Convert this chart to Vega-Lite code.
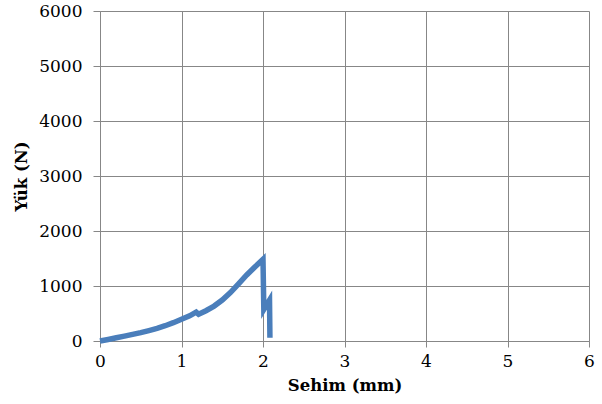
{
  "$schema": "https://vega.github.io/schema/vega-lite/v6.json",
  "autosize": {"type": "none"},
  "width": 489,
  "height": 330,
  "padding": {"left": 100, "top": 11, "right": 13, "bottom": 63},
  "background": "white",
  "data": {"values": [
    {"i": 0, "x": 0, "y": 0},
    {"i": 1, "x": 0.1, "y": 28},
    {"i": 2, "x": 0.2, "y": 58},
    {"i": 3, "x": 0.3, "y": 88},
    {"i": 4, "x": 0.4, "y": 120},
    {"i": 5, "x": 0.5, "y": 153},
    {"i": 6, "x": 0.6, "y": 190},
    {"i": 7, "x": 0.7, "y": 230},
    {"i": 8, "x": 0.8, "y": 278},
    {"i": 9, "x": 0.9, "y": 333},
    {"i": 10, "x": 1.0, "y": 395},
    {"i": 11, "x": 1.1, "y": 458},
    {"i": 12, "x": 1.18, "y": 525},
    {"i": 13, "x": 1.21, "y": 485},
    {"i": 14, "x": 1.3, "y": 550},
    {"i": 15, "x": 1.4, "y": 635},
    {"i": 16, "x": 1.5, "y": 745},
    {"i": 17, "x": 1.6, "y": 880},
    {"i": 18, "x": 1.7, "y": 1040},
    {"i": 19, "x": 1.8, "y": 1200},
    {"i": 20, "x": 1.9, "y": 1345},
    {"i": 21, "x": 2.0, "y": 1485},
    {"i": 22, "x": 2.01, "y": 575},
    {"i": 23, "x": 2.08, "y": 745},
    {"i": 24, "x": 2.085, "y": 60}
  ]},
  "mark": {"type": "line", "color": "#4a7ebb", "strokeWidth": 5.5, "strokeJoin": "miter", "strokeCap": "butt"},
  "encoding": {
    "order": {"field": "i", "type": "quantitative"},
    "x": {
      "field": "x", "type": "quantitative",
      "scale": {"domain": [0, 6], "nice": false, "zero": true},
      "axis": {
        "title": "Sehim (mm)", "values": [0, 1, 2, 3, 4, 5, 6], "format": "d",
        "grid": true, "gridColor": "#878787", "gridWidth": 1,
        "domainColor": "#878787", "tickColor": "#878787", "tickSize": 6,
        "labelFontSize": 17, "labelColor": "black", "labelPadding": 6, "labelFlush": false,
        "titleFontSize": 16.5, "titleFontWeight": "bold", "titleColor": "black", "titlePadding": 8
      }
    },
    "y": {
      "field": "y", "type": "quantitative",
      "scale": {"domain": [0, 6000], "nice": false},
      "axis": {
        "title": "Yük (N)", "values": [0, 1000, 2000, 3000, 4000, 5000, 6000], "format": "d",
        "grid": true, "gridColor": "#878787", "gridWidth": 1,
        "domainColor": "#878787", "tickColor": "#878787", "tickSize": 7,
        "labelFontSize": 17, "labelColor": "black", "labelPadding": 11, "labelFlush": false,
        "titleFontSize": 16.5, "titleFontWeight": "bold", "titleColor": "black", "titlePadding": 9
      }
    }
  },
  "config": {"view": {"stroke": null}, "font": "DejaVu Serif", "axis": {"labelFont": "DejaVu Serif", "titleFont": "DejaVu Serif"}}
}
